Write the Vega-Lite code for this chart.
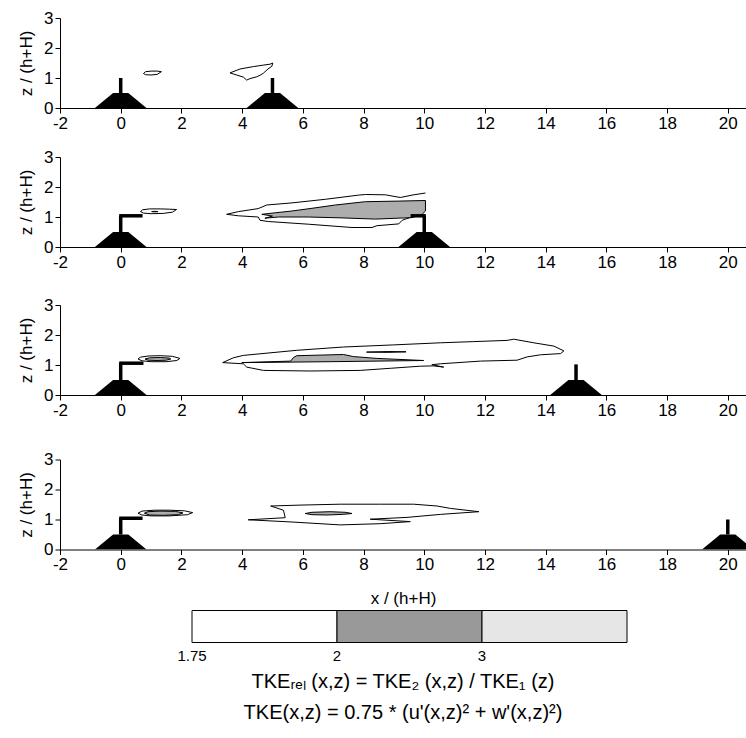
{
  "$schema": "https://vega.github.io/schema/vega-lite/v6.json",
  "padding": {"left": 17, "top": 9, "right": 0, "bottom": 0},
  "background": "white",
  "config": {
    "font": "Liberation Sans",
    "view": {"stroke": null},
    "axis": {"domainColor": "black", "tickColor": "black", "labelColor": "black", "titleColor": "black", "labelFontSize": 17, "titleFontSize": 17, "titleFontWeight": "normal", "grid": false, "tickSize": 5, "labelPadding": 2, "labelFlush": false, "labelOverlap": false}
  },
  "datasets": {
    "cont": [
      {"p":1,"c":"1a","lv":1.75,"i":0,"x":0.75,"y":1.15},{"p":1,"c":"1a","lv":1.75,"i":1,"x":0.82,"y":1.21},{"p":1,"c":"1a","lv":1.75,"i":2,"x":1.0,"y":1.23},{"p":1,"c":"1a","lv":1.75,"i":3,"x":1.2,"y":1.23},{"p":1,"c":"1a","lv":1.75,"i":4,"x":1.34,"y":1.21},{"p":1,"c":"1a","lv":1.75,"i":5,"x":1.2,"y":1.12},{"p":1,"c":"1a","lv":1.75,"i":6,"x":1.0,"y":1.1},{"p":1,"c":"1a","lv":1.75,"i":7,"x":0.82,"y":1.11},{"p":1,"c":"1a","lv":1.75,"i":8,"x":0.75,"y":1.15},
      {"p":1,"c":"1b","lv":1.75,"i":0,"x":3.6,"y":1.17},{"p":1,"c":"1b","lv":1.75,"i":1,"x":3.93,"y":1.3},{"p":1,"c":"1b","lv":1.75,"i":2,"x":4.37,"y":1.38},{"p":1,"c":"1b","lv":1.75,"i":3,"x":4.7,"y":1.43},{"p":1,"c":"1b","lv":1.75,"i":4,"x":4.92,"y":1.46},{"p":1,"c":"1b","lv":1.75,"i":5,"x":5.01,"y":1.5},{"p":1,"c":"1b","lv":1.75,"i":6,"x":4.98,"y":1.39},{"p":1,"c":"1b","lv":1.75,"i":7,"x":4.85,"y":1.3},{"p":1,"c":"1b","lv":1.75,"i":8,"x":4.7,"y":1.16},{"p":1,"c":"1b","lv":1.75,"i":9,"x":4.59,"y":1.09},{"p":1,"c":"1b","lv":1.75,"i":10,"x":4.48,"y":1.04},{"p":1,"c":"1b","lv":1.75,"i":11,"x":4.26,"y":0.98},{"p":1,"c":"1b","lv":1.75,"i":12,"x":4.15,"y":0.93},{"p":1,"c":"1b","lv":1.75,"i":13,"x":4.04,"y":1.03},{"p":1,"c":"1b","lv":1.75,"i":14,"x":3.82,"y":1.1},{"p":1,"c":"1b","lv":1.75,"i":15,"x":3.6,"y":1.17},

      {"p":2,"c":"2a","lv":1.75,"i":0,"x":0.65,"y":1.18},{"p":2,"c":"2a","lv":1.75,"i":1,"x":0.72,"y":1.24},{"p":2,"c":"2a","lv":1.75,"i":2,"x":0.95,"y":1.27},{"p":2,"c":"2a","lv":1.75,"i":3,"x":1.3,"y":1.27},{"p":2,"c":"2a","lv":1.75,"i":4,"x":1.6,"y":1.26},{"p":2,"c":"2a","lv":1.75,"i":5,"x":1.84,"y":1.25},{"p":2,"c":"2a","lv":1.75,"i":6,"x":1.7,"y":1.16},{"p":2,"c":"2a","lv":1.75,"i":7,"x":1.4,"y":1.12},{"p":2,"c":"2a","lv":1.75,"i":8,"x":1.0,"y":1.11},{"p":2,"c":"2a","lv":1.75,"i":9,"x":0.75,"y":1.13},{"p":2,"c":"2a","lv":1.75,"i":10,"x":0.65,"y":1.18},
      {"p":2,"c":"2d","lv":2,"i":0,"x":1.02,"y":1.18},{"p":2,"c":"2d","lv":2,"i":1,"x":1.12,"y":1.19},{"p":2,"c":"2d","lv":2,"i":2,"x":1.23,"y":1.18},{"p":2,"c":"2d","lv":2,"i":3,"x":1.12,"y":1.17},{"p":2,"c":"2d","lv":2,"i":4,"x":1.02,"y":1.18},
      {"p":2,"c":"2b","lv":1.75,"i":0,"x":10.04,"y":1.8},{"p":2,"c":"2b","lv":1.75,"i":1,"x":9.6,"y":1.73},{"p":2,"c":"2b","lv":1.75,"i":2,"x":9.21,"y":1.65},{"p":2,"c":"2b","lv":1.75,"i":3,"x":8.72,"y":1.74},{"p":2,"c":"2b","lv":1.75,"i":4,"x":8.06,"y":1.75},{"p":2,"c":"2b","lv":1.75,"i":5,"x":7.84,"y":1.73},{"p":2,"c":"2b","lv":1.75,"i":6,"x":6.74,"y":1.59},{"p":2,"c":"2b","lv":1.75,"i":7,"x":5.64,"y":1.47},{"p":2,"c":"2b","lv":1.75,"i":8,"x":4.81,"y":1.4},{"p":2,"c":"2b","lv":1.75,"i":9,"x":4.53,"y":1.28},{"p":2,"c":"2b","lv":1.75,"i":10,"x":3.88,"y":1.18},{"p":2,"c":"2b","lv":1.75,"i":11,"x":3.49,"y":1.09},{"p":2,"c":"2b","lv":1.75,"i":12,"x":3.88,"y":1.04},{"p":2,"c":"2b","lv":1.75,"i":13,"x":4.53,"y":1.0},{"p":2,"c":"2b","lv":1.75,"i":14,"x":4.59,"y":0.89},{"p":2,"c":"2b","lv":1.75,"i":15,"x":4.86,"y":0.85},{"p":2,"c":"2b","lv":1.75,"i":16,"x":6.18,"y":0.76},{"p":2,"c":"2b","lv":1.75,"i":17,"x":7.62,"y":0.65},{"p":2,"c":"2b","lv":1.75,"i":18,"x":8.28,"y":0.65},{"p":2,"c":"2b","lv":1.75,"i":19,"x":8.44,"y":0.71},{"p":2,"c":"2b","lv":1.75,"i":20,"x":9.16,"y":0.77},{"p":2,"c":"2b","lv":1.75,"i":21,"x":9.27,"y":0.89},{"p":2,"c":"2b","lv":1.75,"i":22,"x":9.43,"y":0.95},{"p":2,"c":"2b","lv":1.75,"i":23,"x":9.6,"y":1.0},
      {"p":2,"c":"2c","lv":2,"i":0,"x":4.65,"y":1.09},{"p":2,"c":"2c","lv":2,"i":1,"x":5.09,"y":1.14},{"p":2,"c":"2c","lv":2,"i":2,"x":5.64,"y":1.2},{"p":2,"c":"2c","lv":2,"i":3,"x":6.3,"y":1.29},{"p":2,"c":"2c","lv":2,"i":4,"x":7.07,"y":1.4},{"p":2,"c":"2c","lv":2,"i":5,"x":8.06,"y":1.51},{"p":2,"c":"2c","lv":2,"i":6,"x":9.16,"y":1.53},{"p":2,"c":"2c","lv":2,"i":7,"x":10.04,"y":1.55},{"p":2,"c":"2c","lv":2,"i":8,"x":10.04,"y":1.2},{"p":2,"c":"2c","lv":2,"i":9,"x":9.93,"y":1.09},{"p":2,"c":"2c","lv":2,"i":10,"x":9.6,"y":0.98},{"p":2,"c":"2c","lv":2,"i":11,"x":8.39,"y":0.93},{"p":2,"c":"2c","lv":2,"i":12,"x":7.29,"y":0.97},{"p":2,"c":"2c","lv":2,"i":13,"x":6.18,"y":1.0},{"p":2,"c":"2c","lv":2,"i":14,"x":5.2,"y":1.0},{"p":2,"c":"2c","lv":2,"i":15,"x":4.75,"y":0.96},{"p":2,"c":"2c","lv":2,"i":16,"x":5.0,"y":1.03},{"p":2,"c":"2c","lv":2,"i":17,"x":4.65,"y":1.09},

      {"p":3,"c":"3a","lv":1.75,"i":0,"x":0.57,"y":1.2},{"p":3,"c":"3a","lv":1.75,"i":1,"x":0.65,"y":1.26},{"p":3,"c":"3a","lv":1.75,"i":2,"x":0.9,"y":1.3},{"p":3,"c":"3a","lv":1.75,"i":3,"x":1.3,"y":1.31},{"p":3,"c":"3a","lv":1.75,"i":4,"x":1.7,"y":1.29},{"p":3,"c":"3a","lv":1.75,"i":5,"x":1.95,"y":1.22},{"p":3,"c":"3a","lv":1.75,"i":6,"x":1.85,"y":1.15},{"p":3,"c":"3a","lv":1.75,"i":7,"x":1.5,"y":1.11},{"p":3,"c":"3a","lv":1.75,"i":8,"x":1.0,"y":1.11},{"p":3,"c":"3a","lv":1.75,"i":9,"x":0.7,"y":1.14},{"p":3,"c":"3a","lv":1.75,"i":10,"x":0.57,"y":1.2},
      {"p":3,"c":"3b","lv":2,"i":0,"x":0.8,"y":1.2},{"p":3,"c":"3b","lv":2,"i":1,"x":0.95,"y":1.24},{"p":3,"c":"3b","lv":2,"i":2,"x":1.3,"y":1.25},{"p":3,"c":"3b","lv":2,"i":3,"x":1.6,"y":1.23},{"p":3,"c":"3b","lv":2,"i":4,"x":1.65,"y":1.2},{"p":3,"c":"3b","lv":2,"i":5,"x":1.5,"y":1.16},{"p":3,"c":"3b","lv":2,"i":6,"x":1.2,"y":1.15},{"p":3,"c":"3b","lv":2,"i":7,"x":0.9,"y":1.16},{"p":3,"c":"3b","lv":2,"i":8,"x":0.8,"y":1.2},
      {"p":3,"c":"3c","lv":1.75,"i":0,"x":3.36,"y":1.08},{"p":3,"c":"3c","lv":1.75,"i":1,"x":3.71,"y":1.24},{"p":3,"c":"3c","lv":1.75,"i":2,"x":4.04,"y":1.32},{"p":3,"c":"3c","lv":1.75,"i":3,"x":5.8,"y":1.49},{"p":3,"c":"3c","lv":1.75,"i":4,"x":7.34,"y":1.6},{"p":3,"c":"3c","lv":1.75,"i":5,"x":8.99,"y":1.67},{"p":3,"c":"3c","lv":1.75,"i":6,"x":10.53,"y":1.74},{"p":3,"c":"3c","lv":1.75,"i":7,"x":11.63,"y":1.78},{"p":3,"c":"3c","lv":1.75,"i":8,"x":12.73,"y":1.82},{"p":3,"c":"3c","lv":1.75,"i":9,"x":12.95,"y":1.86},{"p":3,"c":"3c","lv":1.75,"i":10,"x":13.61,"y":1.74},{"p":3,"c":"3c","lv":1.75,"i":11,"x":14.27,"y":1.63},{"p":3,"c":"3c","lv":1.75,"i":12,"x":14.6,"y":1.47},{"p":3,"c":"3c","lv":1.75,"i":13,"x":14.49,"y":1.38},{"p":3,"c":"3c","lv":1.75,"i":14,"x":13.83,"y":1.34},{"p":3,"c":"3c","lv":1.75,"i":15,"x":13.39,"y":1.27},{"p":3,"c":"3c","lv":1.75,"i":16,"x":13.06,"y":1.16},{"p":3,"c":"3c","lv":1.75,"i":17,"x":11.85,"y":1.13},{"p":3,"c":"3c","lv":1.75,"i":18,"x":10.53,"y":1.04},{"p":3,"c":"3c","lv":1.75,"i":19,"x":10.25,"y":1.01},{"p":3,"c":"3c","lv":1.75,"i":20,"x":10.64,"y":0.93},{"p":3,"c":"3c","lv":1.75,"i":21,"x":10.3,"y":0.97},{"p":3,"c":"3c","lv":1.75,"i":22,"x":9.87,"y":0.96},{"p":3,"c":"3c","lv":1.75,"i":23,"x":8.88,"y":0.89},{"p":3,"c":"3c","lv":1.75,"i":24,"x":7.89,"y":0.82},{"p":3,"c":"3c","lv":1.75,"i":25,"x":6.24,"y":0.8},{"p":3,"c":"3c","lv":1.75,"i":26,"x":4.7,"y":0.82},{"p":3,"c":"3c","lv":1.75,"i":27,"x":4.15,"y":0.93},{"p":3,"c":"3c","lv":1.75,"i":28,"x":4.04,"y":1.04},{"p":3,"c":"3c","lv":1.75,"i":29,"x":3.36,"y":1.08},
      {"p":3,"c":"3d","lv":2,"i":0,"x":3.99,"y":1.08},{"p":3,"c":"3d","lv":2,"i":1,"x":5.6,"y":1.13},{"p":3,"c":"3d","lv":2,"i":2,"x":5.69,"y":1.25},{"p":3,"c":"3d","lv":2,"i":3,"x":5.8,"y":1.31},{"p":3,"c":"3d","lv":2,"i":4,"x":7.34,"y":1.35},{"p":3,"c":"3d","lv":2,"i":5,"x":7.67,"y":1.28},{"p":3,"c":"3d","lv":2,"i":6,"x":8.44,"y":1.22},{"p":3,"c":"3d","lv":2,"i":7,"x":9.98,"y":1.15},{"p":3,"c":"3d","lv":2,"i":8,"x":6.9,"y":1.11},{"p":3,"c":"3d","lv":2,"i":9,"x":3.99,"y":1.08},
      {"p":3,"c":"3e","lv":1.75,"i":0,"x":8.1,"y":1.43},{"p":3,"c":"3e","lv":1.75,"i":1,"x":8.8,"y":1.45},{"p":3,"c":"3e","lv":1.75,"i":2,"x":9.4,"y":1.44},{"p":3,"c":"3e","lv":1.75,"i":3,"x":8.8,"y":1.42},{"p":3,"c":"3e","lv":1.75,"i":4,"x":8.1,"y":1.43},

      {"p":4,"c":"4a","lv":1.75,"i":0,"x":0.57,"y":1.21},{"p":4,"c":"4a","lv":1.75,"i":1,"x":0.7,"y":1.28},{"p":4,"c":"4a","lv":1.75,"i":2,"x":1.1,"y":1.31},{"p":4,"c":"4a","lv":1.75,"i":3,"x":1.6,"y":1.31},{"p":4,"c":"4a","lv":1.75,"i":4,"x":2.1,"y":1.29},{"p":4,"c":"4a","lv":1.75,"i":5,"x":2.37,"y":1.23},{"p":4,"c":"4a","lv":1.75,"i":6,"x":2.2,"y":1.16},{"p":4,"c":"4a","lv":1.75,"i":7,"x":1.6,"y":1.12},{"p":4,"c":"4a","lv":1.75,"i":8,"x":1.0,"y":1.12},{"p":4,"c":"4a","lv":1.75,"i":9,"x":0.7,"y":1.15},{"p":4,"c":"4a","lv":1.75,"i":10,"x":0.57,"y":1.21},
      {"p":4,"c":"4b","lv":2,"i":0,"x":0.78,"y":1.21},{"p":4,"c":"4b","lv":2,"i":1,"x":0.9,"y":1.26},{"p":4,"c":"4b","lv":2,"i":2,"x":1.3,"y":1.28},{"p":4,"c":"4b","lv":2,"i":3,"x":1.8,"y":1.27},{"p":4,"c":"4b","lv":2,"i":4,"x":2.05,"y":1.22},{"p":4,"c":"4b","lv":2,"i":5,"x":1.9,"y":1.16},{"p":4,"c":"4b","lv":2,"i":6,"x":1.4,"y":1.14},{"p":4,"c":"4b","lv":2,"i":7,"x":0.95,"y":1.15},{"p":4,"c":"4b","lv":2,"i":8,"x":0.78,"y":1.21},
      {"p":4,"c":"4c","lv":1.75,"i":0,"x":4.94,"y":1.45},{"p":4,"c":"4c","lv":1.75,"i":1,"x":5.91,"y":1.48},{"p":4,"c":"4c","lv":1.75,"i":2,"x":7.23,"y":1.51},{"p":4,"c":"4c","lv":1.75,"i":3,"x":8.55,"y":1.51},{"p":4,"c":"4c","lv":1.75,"i":4,"x":9.65,"y":1.51},{"p":4,"c":"4c","lv":1.75,"i":5,"x":10.42,"y":1.45},{"p":4,"c":"4c","lv":1.75,"i":6,"x":10.86,"y":1.37},{"p":4,"c":"4c","lv":1.75,"i":7,"x":11.8,"y":1.26},{"p":4,"c":"4c","lv":1.75,"i":8,"x":10.53,"y":1.17},{"p":4,"c":"4c","lv":1.75,"i":9,"x":9.43,"y":1.07},{"p":4,"c":"4c","lv":1.75,"i":10,"x":8.22,"y":1.01},{"p":4,"c":"4c","lv":1.75,"i":11,"x":9.54,"y":0.93},{"p":4,"c":"4c","lv":1.75,"i":12,"x":8.55,"y":0.86},{"p":4,"c":"4c","lv":1.75,"i":13,"x":7.23,"y":0.82},{"p":4,"c":"4c","lv":1.75,"i":14,"x":5.58,"y":0.92},{"p":4,"c":"4c","lv":1.75,"i":15,"x":4.2,"y":0.99},{"p":4,"c":"4c","lv":1.75,"i":16,"x":5.42,"y":1.06},{"p":4,"c":"4c","lv":1.75,"i":17,"x":5.36,"y":1.31},{"p":4,"c":"4c","lv":1.75,"i":18,"x":4.94,"y":1.45},
      {"p":4,"c":"4d","lv":2,"i":0,"x":6.08,"y":1.2},{"p":4,"c":"4d","lv":2,"i":1,"x":6.3,"y":1.24},{"p":4,"c":"4d","lv":2,"i":2,"x":6.9,"y":1.26},{"p":4,"c":"4d","lv":2,"i":3,"x":7.4,"y":1.24},{"p":4,"c":"4d","lv":2,"i":4,"x":7.62,"y":1.2},{"p":4,"c":"4d","lv":2,"i":5,"x":7.3,"y":1.17},{"p":4,"c":"4d","lv":2,"i":6,"x":6.8,"y":1.15},{"p":4,"c":"4d","lv":2,"i":7,"x":6.3,"y":1.16},{"p":4,"c":"4d","lv":2,"i":8,"x":6.08,"y":1.2}
    ],
    "hills": [
      {"p":1,"h":"a","x":-0.85,"y":0},{"p":1,"h":"a","x":-0.25,"y":0.5},{"p":1,"h":"a","x":0.25,"y":0.5},{"p":1,"h":"a","x":0.85,"y":0},
      {"p":1,"h":"b","x":4.15,"y":0},{"p":1,"h":"b","x":4.75,"y":0.5},{"p":1,"h":"b","x":5.25,"y":0.5},{"p":1,"h":"b","x":5.85,"y":0},
      {"p":2,"h":"a","x":-0.85,"y":0},{"p":2,"h":"a","x":-0.25,"y":0.5},{"p":2,"h":"a","x":0.25,"y":0.5},{"p":2,"h":"a","x":0.85,"y":0},
      {"p":2,"h":"b","x":9.15,"y":0},{"p":2,"h":"b","x":9.75,"y":0.5},{"p":2,"h":"b","x":10.25,"y":0.5},{"p":2,"h":"b","x":10.85,"y":0},
      {"p":3,"h":"a","x":-0.85,"y":0},{"p":3,"h":"a","x":-0.25,"y":0.5},{"p":3,"h":"a","x":0.25,"y":0.5},{"p":3,"h":"a","x":0.85,"y":0},
      {"p":3,"h":"b","x":14.15,"y":0},{"p":3,"h":"b","x":14.75,"y":0.5},{"p":3,"h":"b","x":15.25,"y":0.5},{"p":3,"h":"b","x":15.85,"y":0},
      {"p":4,"h":"a","x":-0.85,"y":0},{"p":4,"h":"a","x":-0.25,"y":0.5},{"p":4,"h":"a","x":0.25,"y":0.5},{"p":4,"h":"a","x":0.85,"y":0},
      {"p":4,"h":"b","x":19.15,"y":0},{"p":4,"h":"b","x":19.75,"y":0.5},{"p":4,"h":"b","x":20.25,"y":0.5},{"p":4,"h":"b","x":20.85,"y":0}
    ],
    "masts": [
      {"p":1,"x":0,"x2":0,"y":0.5,"y2":1.0},{"p":1,"x":5,"x2":5,"y":0.5,"y2":1.0},
      {"p":2,"x":0,"x2":0,"y":0.5,"y2":1.05},{"p":2,"x":-0.05,"x2":0.72,"y":1.04,"y2":1.04},{"p":2,"x":10,"x2":10,"y":0.5,"y2":1.05},{"p":2,"x":9.55,"x2":10.05,"y":1.04,"y2":1.04},
      {"p":3,"x":0,"x2":0,"y":0.5,"y2":1.07},{"p":3,"x":-0.05,"x2":0.75,"y":1.06,"y2":1.06},{"p":3,"x":15,"x2":15,"y":0.5,"y2":1.02},
      {"p":4,"x":0,"x2":0,"y":0.5,"y2":1.05},{"p":4,"x":-0.05,"x2":0.72,"y":1.04,"y2":1.04},{"p":4,"x":20,"x2":20,"y":0.5,"y2":1.0}
    ],
    "leg": [{"lo":"1.75"},{"lo":"2"},{"lo":"3"}]
  },
  "resolve": {"scale": {"x": "independent", "y": "independent", "color": "independent"}},
  "spacing": 17,
  "vconcat": [
    {
      "width": 686, "height": 90,
      "encoding": {
        "x": {"field": "x", "type": "quantitative", "scale": {"domain": [-2, 20.6], "nice": false, "zero": false}, "axis": {"values": [-2,0,2,4,6,8,10,12,14,16,18,20], "labelExpr": "'' + datum.value", "title": null}},
        "y": {"field": "y", "type": "quantitative", "scale": {"domain": [0, 3], "nice": false}, "axis": {"values": [0,1,2,3], "title": "z / (h+H)", "titlePadding": 8}}
      },
      "layer": [
        {"data": {"name": "hills"}, "transform": [{"filter": "datum.p == 1"}], "mark": {"type": "area", "color": "black", "clip": true}, "encoding": {"detail": {"field": "h"}}},
        {"data": {"name": "masts"}, "transform": [{"filter": "datum.p == 1"}], "mark": {"type": "rule", "color": "black", "strokeWidth": 3.5}, "encoding": {"x2": {"field": "x2"}, "y2": {"field": "y2"}}},
        {"data": {"name": "cont"}, "transform": [{"filter": "datum.p == 1 && datum.lv == 1.75"}], "mark": {"type": "line", "color": "black", "strokeWidth": 1}, "encoding": {"detail": {"field": "c"}, "order": {"field": "i"}}}
      ]
    },
    {
      "resolve": {"scale": {"x": "independent", "y": "independent", "color": "independent"}},
      "spacing": 26,
      "vconcat": [
        {
          "width": 686, "height": 90,
          "encoding": {
            "x": {"field": "x", "type": "quantitative", "scale": {"domain": [-2, 20.6], "nice": false, "zero": false}, "axis": {"values": [-2,0,2,4,6,8,10,12,14,16,18,20], "labelExpr": "'' + datum.value", "title": null}},
            "y": {"field": "y", "type": "quantitative", "scale": {"domain": [0, 3], "nice": false}, "axis": {"values": [0,1,2,3], "title": "z / (h+H)", "titlePadding": 8}}
          },
          "layer": [
            {"data": {"name": "hills"}, "transform": [{"filter": "datum.p == 2"}], "mark": {"type": "area", "color": "black", "clip": true}, "encoding": {"detail": {"field": "h"}}},
            {"data": {"name": "cont"}, "transform": [{"filter": "datum.p == 2 && datum.lv == 1.75"}], "mark": {"type": "line", "color": "black", "strokeWidth": 1}, "encoding": {"detail": {"field": "c"}, "order": {"field": "i"}}},
            {"data": {"name": "cont"}, "transform": [{"filter": "datum.p == 2 && datum.lv == 2"}], "mark": {"type": "line", "stroke": "black", "fill": "#adadad", "strokeWidth": 1}, "encoding": {"detail": {"field": "c"}, "order": {"field": "i"}}},
            {"data": {"name": "masts"}, "transform": [{"filter": "datum.p == 2"}], "mark": {"type": "rule", "color": "black", "strokeWidth": 3.5}, "encoding": {"x2": {"field": "x2"}, "y2": {"field": "y2"}}}
          ]
        },
        {
          "resolve": {"scale": {"x": "independent", "y": "independent", "color": "independent"}},
          "spacing": 32.5,
          "vconcat": [
            {
              "width": 686, "height": 90,
              "encoding": {
                "x": {"field": "x", "type": "quantitative", "scale": {"domain": [-2, 20.6], "nice": false, "zero": false}, "axis": {"values": [-2,0,2,4,6,8,10,12,14,16,18,20], "labelExpr": "'' + datum.value", "title": null}},
                "y": {"field": "y", "type": "quantitative", "scale": {"domain": [0, 3], "nice": false}, "axis": {"values": [0,1,2,3], "title": "z / (h+H)", "titlePadding": 8}}
              },
              "layer": [
                {"data": {"name": "hills"}, "transform": [{"filter": "datum.p == 3"}], "mark": {"type": "area", "color": "black", "clip": true}, "encoding": {"detail": {"field": "h"}}},
                {"data": {"name": "cont"}, "transform": [{"filter": "datum.p == 3 && datum.lv == 1.75"}], "mark": {"type": "line", "color": "black", "strokeWidth": 1}, "encoding": {"detail": {"field": "c"}, "order": {"field": "i"}}},
                {"data": {"name": "cont"}, "transform": [{"filter": "datum.p == 3 && datum.lv == 2"}], "mark": {"type": "line", "stroke": "black", "fill": "#adadad", "strokeWidth": 1}, "encoding": {"detail": {"field": "c"}, "order": {"field": "i"}}},
                {"data": {"name": "masts"}, "transform": [{"filter": "datum.p == 3"}], "mark": {"type": "rule", "color": "black", "strokeWidth": 3.5}, "encoding": {"x2": {"field": "x2"}, "y2": {"field": "y2"}}}
              ]
            },
            {
              "resolve": {"scale": {"x": "independent", "y": "independent", "color": "independent"}},
              "spacing": 3,
              "vconcat": [
                {
                  "width": 686, "height": 90,
                  "encoding": {
                    "x": {"field": "x", "type": "quantitative", "scale": {"domain": [-2, 20.6], "nice": false, "zero": false}, "axis": {"values": [-2,0,2,4,6,8,10,12,14,16,18,20], "labelExpr": "'' + datum.value", "title": "x / (h+H)", "titlePadding": 18}},
                    "y": {"field": "y", "type": "quantitative", "scale": {"domain": [0, 3], "nice": false}, "axis": {"values": [0,1,2,3], "title": "z / (h+H)", "titlePadding": 8}}
                  },
                  "layer": [
                    {"data": {"name": "hills"}, "transform": [{"filter": "datum.p == 4"}], "mark": {"type": "area", "color": "black", "clip": true}, "encoding": {"detail": {"field": "h"}}},
                    {"data": {"name": "cont"}, "transform": [{"filter": "datum.p == 4 && datum.lv == 1.75"}], "mark": {"type": "line", "color": "black", "strokeWidth": 1}, "encoding": {"detail": {"field": "c"}, "order": {"field": "i"}}},
                    {"data": {"name": "cont"}, "transform": [{"filter": "datum.p == 4 && datum.lv == 2"}], "mark": {"type": "line", "stroke": "black", "fill": "#adadad", "strokeWidth": 1}, "encoding": {"detail": {"field": "c"}, "order": {"field": "i"}}},
                    {"data": {"name": "masts"}, "transform": [{"filter": "datum.p == 4"}], "mark": {"type": "rule", "color": "black", "strokeWidth": 3.5, "clip": true}, "encoding": {"x2": {"field": "x2"}, "y2": {"field": "y2"}}}
                  ]
                },
                {
                  "width": 686, "height": 32,
                  "data": {"name": "leg"},
                  "title": {"text": ["TKEᵣₑₗ (x,z) = TKE₂ (x,z) / TKE₁ (z)", "TKE(x,z) = 0.75 * (u'(x,z)² + w'(x,z)²)"], "orient": "bottom", "anchor": "middle", "fontSize": 20, "fontWeight": "normal", "lineHeight": 31, "offset": 8, "color": "black", "font": "Liberation Sans"},
                  "mark": {"type": "rect", "stroke": "black", "strokeWidth": 1},
                  "encoding": {
                    "x": {"field": "lo", "type": "ordinal", "sort": null, "scale": {"range": [132, 567], "paddingInner": 0, "paddingOuter": 0}, "axis": {"domain": false, "ticks": false, "labelAngle": 0, "labelFontSize": 15, "labelPadding": 6, "labelOffset": -72.5, "title": null, "encode": {"labels": {"update": {"align": {"signal": "datum.value === '1.75' ? 'left' : 'center'"}}}}}},
                    "color": {"field": "lo", "type": "nominal", "scale": {"domain": ["1.75", "2", "3"], "range": ["#ffffff", "#999999", "#e6e6e6"]}, "legend": null}
                  }
                }
              ]
            }
          ]
        }
      ]
    }
  ]
}
